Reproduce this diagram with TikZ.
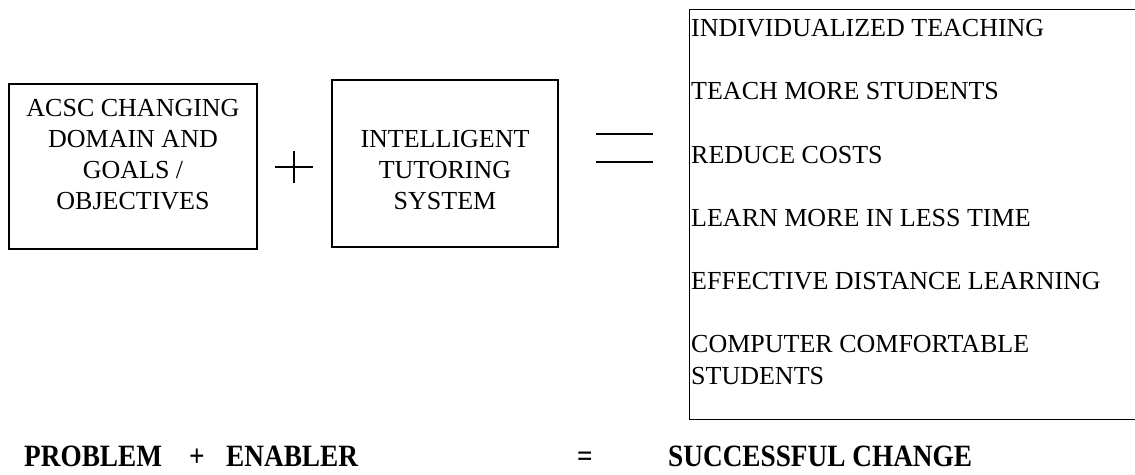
\documentclass[tikz,border=0pt]{standalone}
\usepackage{fontspec}
\setmainfont{Liberation Serif}
\newfontfamily\condbold[FakeStretch=0.88]{Liberation Serif Bold}
\begin{document}
\begin{tikzpicture}[x=1pt,y=-1pt,
  boxtxt/.style={font=\fontsize{26}{31}\selectfont, align=center, inner sep=0pt},
  itemtxt/.style={font=\fontsize{26}{32}\selectfont, align=left, anchor=west, inner sep=0pt},
  frame/.style={draw, line width=1.4pt, inner sep=0pt},
  sym/.style={line width=1.8pt},
  bottxt/.style={font=\condbold\fontsize{31}{34}\selectfont, inner sep=0pt, anchor=base west}
]
\useasboundingbox (0,0) rectangle (1135,474);
\clip (0,0) rectangle (1135,474);
% left boxes
\node[frame, minimum width=248pt, minimum height=165pt] (prob) at (133,166.5) {};
\node[boxtxt] (probtxt) at (133,155) {ACSC CHANGING\\DOMAIN AND\\GOALS /\\OBJECTIVES};
\node[frame, minimum width=226pt, minimum height=167pt] (enab) at (445,163.5) {};
\node[boxtxt] (enabtxt) at (445,170) {INTELLIGENT\\TUTORING\\SYSTEM};
% plus sign
\coordinate (pc) at (294,167);
\draw[sym, line width=1.5pt] ([xshift=-19pt]pc) -- ([xshift=19pt]pc);
\draw[sym, line width=1.5pt] ([yshift=-16pt]pc) -- ([yshift=16pt]pc);
% equals sign
\coordinate (e1) at (596,134);
\coordinate (e2) at (653,134);
\coordinate (e3) at (596,162);
\coordinate (e4) at (653,162);
\draw[sym] (e1) -- (e2);
\draw[sym] (e3) -- (e4);
% right box
\node[frame, minimum width=470pt, minimum height=410pt, anchor=north west] (res) at (689,9) {};
\node[itemtxt] (r1) at (691,28) {INDIVIDUALIZED TEACHING};
\node[itemtxt] (r2) at (691,91) {TEACH MORE STUDENTS};
\node[itemtxt] (r3) at (691,155) {REDUCE COSTS};
\node[itemtxt] (r4) at (691,218) {LEARN MORE IN LESS TIME};
\node[itemtxt] (r5) at (691,281) {EFFECTIVE DISTANCE LEARNING};
\node[itemtxt] (r6) at (691,360) {COMPUTER COMFORTABLE\\STUDENTS};
% bottom labels
\node[bottxt] (bp) at (24,466) {PROBLEM};
\node[bottxt] (bplus) at (189,466) {+};
\node[bottxt] (be) at (226,466) {ENABLER};
\node[bottxt] (beq) at (577,466) {=};
\node[bottxt] (bs) at (668,466) {SUCCESSFUL CHANGE};
\end{tikzpicture}
\end{document}
